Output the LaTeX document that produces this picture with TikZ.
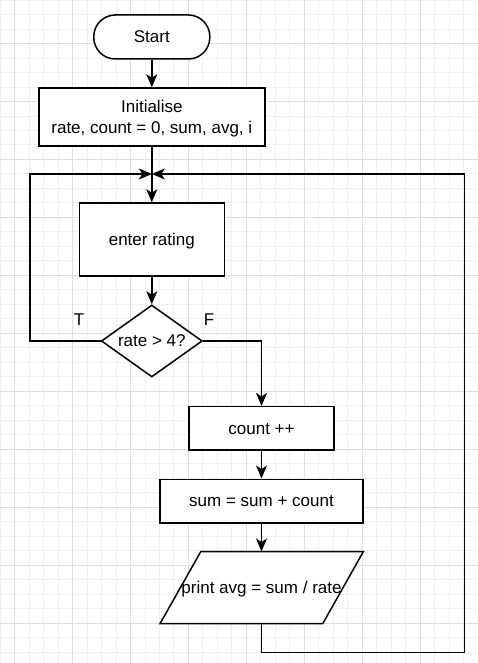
\documentclass[tikz,border=0pt]{standalone}
\usepackage{fontspec}
\setmainfont{Liberation Sans}
\usetikzlibrary{shapes.geometric,arrows.meta}
\begin{document}
\begin{tikzpicture}[x=1pt,y=-1pt,
  minorgrid/.style={draw=black!6,line width=0.8pt},
  majorgrid/.style={draw=black!13,line width=0.8pt},
  box/.style={draw=black,fill=white,line width=1.5pt,inner sep=0pt,align=center,
    font=\fontsize{17}{21}\selectfont,text height=15.4pt,text depth=3.6pt},
  plain/.style={inner sep=0pt,align=center,
    font=\fontsize{17}{21}\selectfont,text height=15.4pt,text depth=3.6pt},
  lbl/.style={inner sep=0pt,font=\fontsize{17}{21}\selectfont},
  arr/.style={draw=black,line width=1.5pt,-{Stealth[length=13pt,width=11pt,inset=3.5pt]}},
  shapeline/.style={draw=black,fill=white,line width=1.5pt}]
\useasboundingbox (0,0) rectangle (478,663);
\fill[white] (0,0) rectangle (478,663);
% grid
\foreach \k in {0,...,33}{\pgfmathsetmacro\xx{\k*14.49}\draw[minorgrid] (\xx,0) -- (\xx,663);}
\foreach \k in {0,...,45}{\pgfmathsetmacro\yy{\k*14.49}\draw[minorgrid] (0,\yy) -- (478,\yy);}
\foreach \k in {1,5,...,33}{\pgfmathsetmacro\xx{\k*14.49}\draw[majorgrid] (\xx,0) -- (\xx,663);}
\foreach \k in {3,7,...,43}{\pgfmathsetmacro\yy{\k*14.49}\draw[majorgrid] (0,\yy) -- (478,\yy);}
% nodes
\node[box,rounded corners=21.5pt,minimum width=116pt,minimum height=44pt] (start) at (151.8,37) {Start};
\node[box,minimum width=226pt,minimum height=58pt,text height=36.4pt] (init) at (151.8,117) {Initialise\\rate, count = 0, sum, avg, i};
\node[box,minimum width=145pt,minimum height=73pt] (enter) at (151.8,239.5) {enter rating};
\node[box,shape=diamond,aspect=1.4,minimum width=101pt,minimum height=72pt] (dec) at (151.8,341) {rate > 4?};
\node[box,minimum width=145pt,minimum height=43.5pt] (count) at (261.5,428.4) {count ++};
\node[box,minimum width=203pt,minimum height=43.5pt] (sum) at (261.5,501) {sum = sum + count};
% parallelogram
\path[shapeline] (200.7,551.7) -- (363.3,551.7) -- (322.7,623.7) -- (160,623.7) -- cycle;
\node[plain,minimum width=203.3pt,minimum height=72pt] (print) at (261.5,587.7) {print avg = sum / rate};
\node[lbl] (T) at (79,320) {T};
\node[lbl] (F) at (209,320) {F};
% coordinates
\coordinate (jn) at (151.8,174);
\coordinate (lcorner) at (30,174);
\coordinate (rcorner) at (464.5,174);
\coordinate (bcorner) at (464.5,652.7);
% connectors
\draw[arr] (start.south) -- (init.north);
\draw[arr] (init.south) -- (enter.north);
\draw[arr] (enter.south) -- (dec.north);
\draw[arr] (dec.west) -| (lcorner) -- (jn);
\draw[arr] (dec.east) -| (count.north);
\draw[arr] (count.south) -- (sum.north);
\draw[arr] (sum.south) -- (print.north);
\draw[arr] (print.south) |- (bcorner) -- (rcorner) -- (jn);
\end{tikzpicture}
\end{document}
